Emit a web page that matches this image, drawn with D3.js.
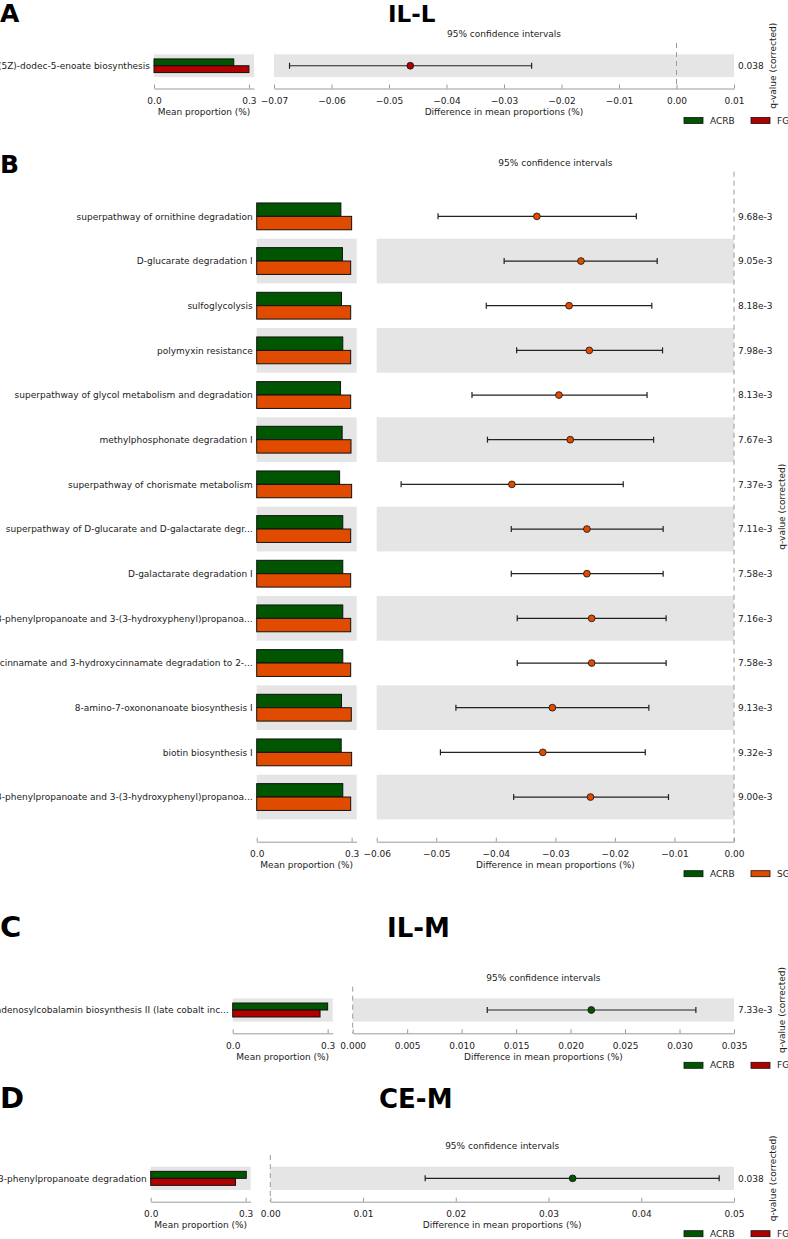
<!DOCTYPE html>
<html>
<head>
<meta charset="utf-8">
<script src="https://cdn.jsdelivr.net/npm/d3@7"></script>
<style>
  body { margin: 0; background: #fff; }
  svg { display: block; }
  text { font-family: "DejaVu Sans", sans-serif; }
</style>
</head>
<body>
<div id="chart"></div>
<script>
// ---- data ----

// A: IL-L, ACRB vs FG
const pathwaysA = ["(5Z)-dodec-5-enoate biosynthesis"];
const acrbA = [0.252];
const fgA = [0.300];
const diffA = [-0.0463];
const lowA = [-0.0673];
const highA = [-0.0252];
const qA = ["0.038"];
const ticksA = [-0.07, -0.06, -0.05, -0.04, -0.03, -0.02, -0.01, 0.00, 0.01];

// B: ACRB vs SG
const pathwaysB = [
  "superpathway of ornithine degradation",
  "D-glucarate degradation I",
  "sulfoglycolysis",
  "polymyxin resistance",
  "superpathway of glycol metabolism and degradation",
  "methylphosphonate degradation I",
  "superpathway of chorismate metabolism",
  "superpathway of D-glucarate and D-galactarate degr...",
  "D-galactarate degradation I",
  "3-phenylpropanoate and 3-(3-hydroxyphenyl)propanoa...",
  "cinnamate and 3-hydroxycinnamate degradation to 2-...",
  "8-amino-7-oxononanoate biosynthesis I",
  "biotin biosynthesis I",
  "3-phenylpropanoate and 3-(3-hydroxyphenyl)propanoa..."
];
const acrbB = [0.266, 0.271, 0.268, 0.272, 0.265, 0.270, 0.262, 0.272, 0.272, 0.272, 0.272, 0.268, 0.267, 0.272];
const sgB = [0.300, 0.297, 0.297, 0.297, 0.297, 0.298, 0.300, 0.297, 0.297, 0.297, 0.297, 0.299, 0.300, 0.297];
const diffB = [-0.0331, -0.0257, -0.0277, -0.0243, -0.0294, -0.0275, -0.0373, -0.0247, -0.0247, -0.0239, -0.0239, -0.0305, -0.0321, -0.0241];
const lowB = [-0.0497, -0.0386, -0.0416, -0.0365, -0.0440, -0.0414, -0.0559, -0.0374, -0.0374, -0.0364, -0.0364, -0.0467, -0.0493, -0.0370];
const highB = [-0.0164, -0.0129, -0.0138, -0.0120, -0.0146, -0.0135, -0.0186, -0.0119, -0.0119, -0.0114, -0.0114, -0.0143, -0.0149, -0.0110];
const qB = ["9.68e-3", "9.05e-3", "8.18e-3", "7.98e-3", "8.13e-3", "7.67e-3", "7.37e-3", "7.11e-3", "7.58e-3", "7.16e-3", "7.58e-3", "9.13e-3", "9.32e-3", "9.00e-3"];
const ticksB = [-0.06, -0.05, -0.04, -0.03, -0.02, -0.01, 0.00];

// C: IL-M, ACRB vs FG
const pathwaysC = ["adenosylcobalamin biosynthesis II (late cobalt inc..."];
const acrbC = [0.300];
const fgC = [0.276];
const diffC = [0.0219];
const lowC = [0.01235];
const highC = [0.0315];
const qC = ["7.33e-3"];
const ticksC = [0.000, 0.005, 0.010, 0.015, 0.020, 0.025, 0.030, 0.035];

// D: CE-M, ACRB vs FG
const pathwaysD = ["3-phenylpropanoate degradation"];
const acrbD = [0.302];
const fgD = [0.268];
const diffD = [0.0326];
const lowD = [0.0167];
const highD = [0.0484];
const qD = ["0.038"];
const ticksD = [0.00, 0.01, 0.02, 0.03, 0.04, 0.05];

const barTicks = [0.0, 0.3];

const GREEN = "#005500";
const RED = "#b00000";
const ORANGE = "#e04b00";
const BAND = "#e5e5e5";
const SPINE = "#9a9a9a";

const W = 788, H = 1239;

const svg = d3.select("#chart").append("svg")
  .attr("width", W)
  .attr("height", H);

svg.append("rect").attr("width", W).attr("height", H).attr("fill", "#fff");


class DiffPlot {

  constructor(svg, o) {
    this.svg = svg;
    this.o = o;
    this.rows = o.pathways.map((p, i) => ({
      name: p, a: o.a[i], b: o.b[i], diff: o.diff[i], low: o.low[i], high: o.high[i], q: o.q[i], i: i
    }));
    this.draw();
  }

  draw() {
    this.g = this.svg.append("g");
    this._createScales();
    this._drawBands();
    this._drawBars();
    this._drawAxes();
    this._drawCI();
    this._drawLabels();
    this._drawLegend();
  }

  _createScales() {
    const o = this.o;
    this.y = d3.scaleBand()
      .domain(d3.range(this.rows.length))
      .range([o.top, o.axisY])
      .paddingInner(0)
      .paddingOuter(0.5);

    this.sub = d3.scaleBand()
      .domain(["a", "b"])
      .range([this.y.bandwidth() * 0.2, this.y.bandwidth() * 0.8]);

    this.xBar = d3.scaleLinear()
      .domain([0, 0.316])
      .range(o.barX);

    this.xCI = d3.scaleLinear()
      .domain(d3.extent(o.ticks))
      .range(o.ciX);
  }

  _drawBands() {
    const n = this.rows.length;
    const shaded = this.rows.filter(d => (n - 1 - d.i) % 2 === 0);
    const o = this.o;

    this.g.append("g")
      .selectAll("rect")
      .data(shaded)
      .join("rect")
        .attr("x", o.barX[0])
        .attr("y", d => this.y(d.i))
        .attr("width", o.barX[1] - o.barX[0])
        .attr("height", this.y.bandwidth())
        .attr("fill", BAND);

    this.g.append("g")
      .selectAll("rect")
      .data(shaded)
      .join("rect")
        .attr("x", o.ciX[0])
        .attr("y", d => this.y(d.i))
        .attr("width", o.ciX[1] - o.ciX[0])
        .attr("height", this.y.bandwidth())
        .attr("fill", BAND);
  }

  _drawBars() {
    const o = this.o;
    const pairs = this.rows.flatMap(d => [
      {i: d.i, k: "a", v: d.a, c: GREEN},
      {i: d.i, k: "b", v: d.b, c: o.colorB}
    ]);

    this.g.append("g")
      .selectAll("rect")
      .data(pairs)
      .join("rect")
        .attr("x", this.xBar(0))
        .attr("y", d => this.y(d.i) + this.sub(d.k))
        .attr("width", d => this.xBar(d.v) - this.xBar(0))
        .attr("height", this.sub.bandwidth())
        .attr("fill", d => d.c)
        .attr("stroke", "#111")
        .attr("stroke-width", 1);
  }

  _drawAxes() {
    const o = this.o;

    const style = g => {
      g.select(".domain").attr("stroke", SPINE);
      g.selectAll(".tick line").attr("stroke", SPINE);
      g.selectAll(".tick text")
        .attr("fill", "#222")
        .attr("font-size", 9)
        .attr("font-family", "DejaVu Sans, sans-serif");
    };

    this.g.append("g")
      .attr("transform", `translate(0,${o.axisY})`)
      .call(d3.axisBottom(this.xBar).tickValues(barTicks).tickFormat(d3.format(".1f"))
        .tickSize(-4).tickSizeOuter(0).tickPadding(9))
      .call(style);

    this.g.append("g")
      .attr("transform", `translate(0,${o.axisY})`)
      .call(d3.axisBottom(this.xCI).tickValues(o.ticks).tickFormat(d3.format(o.fmt))
        .tickSize(-4).tickSizeOuter(0).tickPadding(9))
      .call(style);

    this.g.append("text")
      .attr("x", (o.barX[0] + o.barX[1]) / 2)
      .attr("y", o.axisY + 23.5)
      .attr("dy", "0.35em")
      .attr("text-anchor", "middle")
      .attr("font-size", 9)
      .attr("fill", "#222")
      .text("Mean proportion (%)");

    this.g.append("text")
      .attr("x", (o.ciX[0] + o.ciX[1]) / 2)
      .attr("y", o.axisY + 23.5)
      .attr("dy", "0.35em")
      .attr("text-anchor", "middle")
      .attr("font-size", 9)
      .attr("fill", "#222")
      .text("Difference in mean proportions (%)");

    this.g.append("text")
      .attr("x", (o.ciX[0] + o.ciX[1]) / 2)
      .attr("y", o.top - 9)
      .attr("dy", "0.35em")
      .attr("text-anchor", "middle")
      .attr("font-size", 9)
      .attr("fill", "#222")
      .text("95% confidence intervals");

    // zero line
    this.g.append("line")
      .attr("x1", this.xCI(0)).attr("x2", this.xCI(0))
      .attr("y1", o.top).attr("y2", o.axisY)
      .attr("stroke", SPINE)
      .attr("stroke-width", 1)
      .attr("stroke-dasharray", "5,4");
  }

  _drawCI() {
    const o = this.o;
    const cy = d => this.y(d.i) + this.y.bandwidth() / 2;
    const g = this.g.append("g").attr("stroke", "#222").attr("stroke-width", 1.2);

    g.selectAll("line.ci")
      .data(this.rows)
      .join("line")
        .attr("class", "ci")
        .attr("x1", d => this.xCI(d.low))
        .attr("x2", d => this.xCI(d.high))
        .attr("y1", cy).attr("y2", cy);

    g.selectAll("line.capl")
      .data(this.rows)
      .join("line")
        .attr("class", "capl")
        .attr("x1", d => this.xCI(d.low)).attr("x2", d => this.xCI(d.low))
        .attr("y1", d => cy(d) - 3).attr("y2", d => cy(d) + 3);

    g.selectAll("line.caph")
      .data(this.rows)
      .join("line")
        .attr("class", "caph")
        .attr("x1", d => this.xCI(d.high)).attr("x2", d => this.xCI(d.high))
        .attr("y1", d => cy(d) - 3).attr("y2", d => cy(d) + 3);

    this.g.append("g")
      .selectAll("circle")
      .data(this.rows)
      .join("circle")
        .attr("cx", d => this.xCI(d.diff))
        .attr("cy", cy)
        .attr("r", 3.4)
        .attr("fill", d => d.diff > 0 ? GREEN : o.colorB)
        .attr("stroke", "#111")
        .attr("stroke-width", 0.8);
  }

  _drawLabels() {
    const o = this.o;
    const cy = d => this.y(d.i) + this.y.bandwidth() / 2;

    this.g.append("g")
      .selectAll("text")
      .data(this.rows)
      .join("text")
        .attr("x", o.barX[0] - 4)
        .attr("y", cy)
        .attr("dy", "0.35em")
        .attr("text-anchor", "end")
        .attr("font-size", 9)
        .attr("fill", "#222")
        .text(d => d.name);

    const qText = this.g.append("g")
      .selectAll("text")
      .data(this.rows)
      .join("text")
        .attr("x", o.ciX[1] + 4)
        .attr("y", cy)
        .attr("dy", "0.35em")
        .attr("font-size", 9)
        .attr("fill", "#222")
        .text(d => d.q);

    const maxLen = d3.max(qText.nodes(), n => n.getComputedTextLength());
    const lx = o.ciX[1] + 4 + maxLen + 12;
    const ly = (o.top + o.axisY) / 2;

    this.g.append("text")
      .attr("transform", `translate(${lx},${ly}) rotate(-90)`)
      .attr("text-anchor", "middle")
      .attr("font-size", 9)
      .attr("fill", "#222")
      .text("q-value (corrected)");

    // panel letter and group title
    this.svg.append("text")
      .attr("x", 0)
      .attr("y", o.letterY)
      .attr("font-family", "Lato, sans-serif")
      .attr("font-weight", "bold")
      .attr("font-size", o.letterSize)
      .text(o.letter);

    if (o.title) {
      this.svg.append("text")
        .attr("x", o.titleX)
        .attr("y", o.letterY)
        .attr("font-family", "Lato, sans-serif")
        .attr("font-weight", "bold")
        .attr("font-size", o.titleSize)
        .text(o.title);
    }
  }

  _drawLegend() {
    const o = this.o;
    const items = [{name: "ACRB", c: GREEN, x: 684}, {name: o.groupB, c: o.colorB, x: 751}];
    const ly = o.axisY + 32;
    const lg = this.g.append("g");

    lg.selectAll("rect")
      .data(items)
      .join("rect")
        .attr("x", d => d.x)
        .attr("y", ly - 3)
        .attr("width", 19)
        .attr("height", 6)
        .attr("fill", d => d.c)
        .attr("stroke", "#111")
        .attr("stroke-width", 0.8);

    lg.selectAll("text")
      .data(items)
      .join("text")
        .attr("x", d => d.x + 26)
        .attr("y", ly)
        .attr("dy", "0.35em")
        .attr("font-size", 9)
        .attr("fill", "#222")
        .text(d => d.name);
  }
}


new DiffPlot(svg, {
  letter: "A", title: "IL-L", letterY: 22, letterSize: 25, titleSize: 23, titleX: 388,
  pathways: pathwaysA, a: acrbA, b: fgA, diff: diffA, low: lowA, high: highA, q: qA,
  ticks: ticksA, fmt: ".2f", groupB: "FG", colorB: RED,
  top: 43, axisY: 88.5, barX: [154, 254], ciX: [274, 734]
});

new DiffPlot(svg, {
  letter: "B", title: null, letterY: 173, letterSize: 25,
  pathways: pathwaysB, a: acrbB, b: sgB, diff: diffB, low: lowB, high: highB, q: qB,
  ticks: ticksB, fmt: ".2f", groupB: "SG", colorB: ORANGE,
  top: 171.7, axisY: 841.7, barX: [256.7, 356.7], ciX: [376.7, 734]
});

new DiffPlot(svg, {
  letter: "C", title: "IL-M", letterY: 937, letterSize: 29, titleSize: 26, titleX: 387,
  pathways: pathwaysC, a: acrbC, b: fgC, diff: diffC, low: lowC, high: highC, q: qC,
  ticks: ticksC, fmt: ".3f", groupB: "FG", colorB: RED,
  top: 986.7, axisY: 1033.3, barX: [232.7, 332.7], ciX: [352.7, 734]
});

new DiffPlot(svg, {
  letter: "D", title: "CE-M", letterY: 1108, letterSize: 29, titleSize: 26, titleX: 379,
  pathways: pathwaysD, a: acrbD, b: fgD, diff: diffD, low: lowD, high: highD, q: qD,
  ticks: ticksD, fmt: ".2f", groupB: "FG", colorB: RED,
  top: 1155, axisY: 1201.7, barX: [150.7, 250.7], ciX: [270.3, 734]
});
</script>
</body>
</html>
